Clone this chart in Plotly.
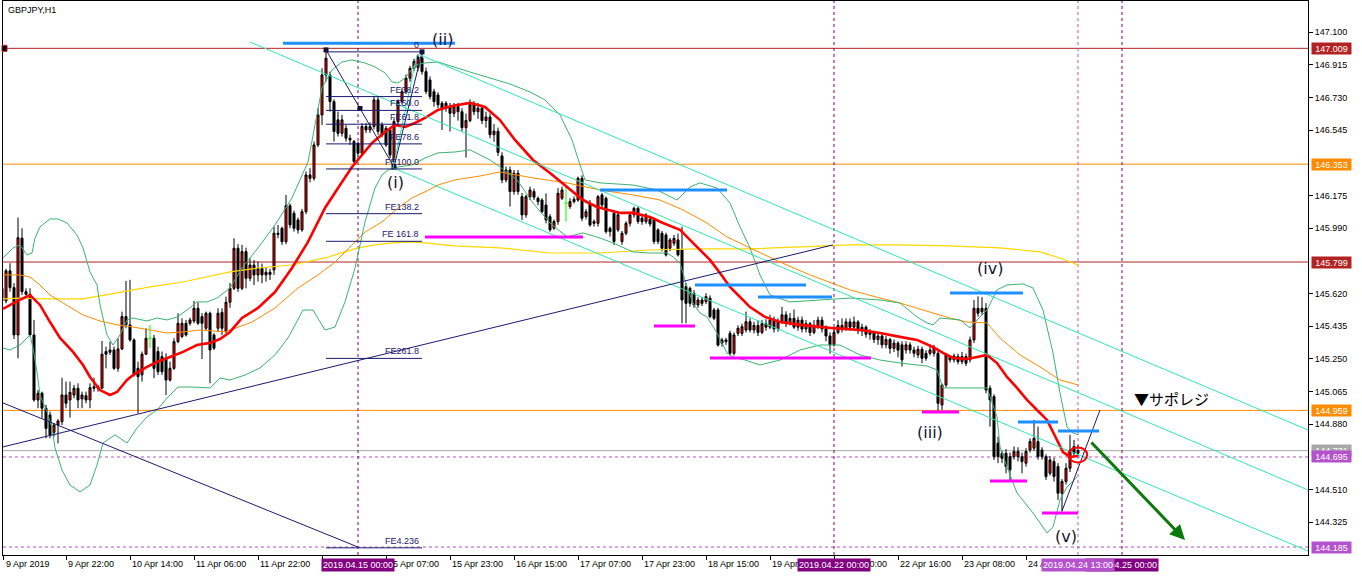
import plotly.graph_objects as go

# ---------------- candles (bar index 0 = 9 Apr 2019 06:00, H1) ----------------
opens = [145.650,145.579,145.749,145.654,145.386,145.934,145.631,145.616,145.386,145.018,
         145.056,144.971,144.933,144.835,144.876,144.895,145.046,145.018,145.046,145.084,
         145.024,145.042,145.018,145.084,145.093,145.084,145.292,145.288,145.301,145.197,
         145.307,145.490,145.443,145.358,145.197,145.160,145.277,145.367,145.367,145.292,
         145.263,145.254,145.131,145.197,145.348,145.377,145.452,145.452,145.465,145.537,
         145.490,145.424,145.509,145.386,145.424,145.514,145.405,145.571,145.650,145.877,
         145.650,145.858,145.707,145.782,145.726,145.763,145.726,145.741,145.754,145.962,
         145.990,145.914,146.118,146.075,146.037,145.981,146.084,146.292,146.273,146.462,
         146.632,146.858,146.858,146.707,146.604,146.528,146.556,146.500,146.481,146.471,
         146.415,146.566,146.547,146.566,146.717,146.575,146.556,146.547,146.368,146.594,
         146.707,146.764,146.840,146.896,146.900,146.955,146.877,146.830,146.764,146.745,
         146.698,146.670,146.679,
         146.641,146.680,146.650,146.560,146.600,146.690,146.650,146.670,146.600,146.620,
         146.520,146.540,146.400,146.264,146.320,146.198,146.302,146.169,146.066,146.169,
         146.198,146.160,146.150,146.122,146.056,145.990,146.028,146.160,146.132,146.113,
         146.141,146.150,146.273,146.056,146.132,146.028,146.018,146.179,146.160,145.990,
         146.075,145.981,145.915,145.962,146.018,146.066,146.103,146.047,146.028,146.041,
         146.037,145.981,145.962,145.952,145.877,145.905,145.924,145.867,145.660,145.650,
         145.622,145.556,145.584,145.575,145.594,145.528,145.528,145.358,145.348,145.395,
         145.282,145.395,145.395,145.414,
         145.461,145.414,145.440,145.400,145.450,145.430,145.470,145.420,145.460,145.500,
         145.450,145.480,145.430,145.470,145.420,145.450,145.400,145.440,145.470,145.420,
         145.380,145.330,145.400,145.440,145.420,145.460,145.430,145.460,145.410,145.430,
         145.390,145.400,145.360,145.380,145.330,145.360,145.310,145.340,
         145.330,145.301,145.330,145.301,145.273,145.305,145.282,145.282,145.282,145.282,
         144.990,145.103,145.264,145.245,145.264,145.235,145.264,145.245,145.358,145.537,
         145.518,145.537,145.084,145.037,144.773,144.716,144.716,144.697,144.697,144.697,
         144.697,144.660,144.735,144.745,144.782,144.735,144.697,144.603,144.669,144.641,
         144.490,144.556,144.631,144.754,144.716]
highs = [145.688,145.760,145.792,145.679,146.051,145.990,145.650,145.650,145.471,145.075,
         145.065,144.990,144.952,144.886,144.910,145.144,145.122,145.122,145.103,145.112,
         145.065,145.065,145.112,145.144,145.103,145.352,145.320,145.348,145.320,145.367,
         145.518,145.692,145.698,145.367,145.235,145.292,145.424,145.443,145.386,145.320,
         145.292,145.282,145.235,145.367,145.509,145.480,145.471,145.484,145.579,145.571,
         145.509,145.518,145.518,145.396,145.537,145.537,145.603,145.680,145.933,145.900,
         145.896,145.880,145.820,145.810,145.801,145.790,145.770,145.760,145.999,146.009,
         145.999,146.179,146.130,146.090,146.050,146.100,146.311,146.330,146.481,146.670,
         146.896,147.000,146.877,146.720,146.651,146.632,146.575,146.520,146.490,146.480,
         146.585,146.585,146.590,146.736,146.736,146.590,146.570,146.560,146.613,146.720,
         146.783,146.860,146.910,146.950,146.975,146.991,146.900,146.850,146.780,146.760,
         146.710,146.710,146.700,
         146.700,146.700,146.670,146.640,146.720,146.710,146.700,146.690,146.650,146.640,
         146.580,146.560,146.420,146.340,146.340,146.320,146.320,146.190,146.180,146.226,
         146.215,146.170,146.160,146.188,146.070,146.040,146.217,146.226,146.235,146.160,
         146.170,146.283,146.290,146.100,146.150,146.040,146.179,146.190,146.170,146.000,
         146.090,146.080,145.975,146.030,146.080,146.113,146.113,146.060,146.075,146.060,
         146.050,145.990,145.975,145.965,145.935,145.952,145.960,145.999,145.680,145.660,
         145.640,145.600,145.600,145.622,145.610,145.540,145.540,145.370,145.370,145.410,
         145.400,145.440,145.450,145.518,
         145.480,145.460,145.470,145.470,145.475,145.500,145.490,145.480,145.545,145.520,
         145.510,145.530,145.490,145.490,145.470,145.460,145.470,145.490,145.490,145.440,
         145.400,145.420,145.470,145.480,145.480,145.480,145.490,145.470,145.450,145.440,
         145.420,145.410,145.400,145.390,145.380,145.370,145.360,145.350,
         145.350,145.350,145.345,145.320,145.325,145.320,145.300,145.330,145.330,145.300,
         145.110,145.282,145.273,145.280,145.280,145.290,145.280,145.377,145.584,145.605,
         145.600,145.566,145.100,145.050,144.811,144.730,144.740,144.720,144.754,144.750,
         144.720,144.745,144.800,144.905,144.867,144.750,144.710,144.700,144.690,144.660,
         144.570,144.660,144.820,144.792,144.764]
lows = [145.556,145.565,145.631,145.363,145.254,145.613,145.609,145.377,145.008,144.971,
        144.914,144.801,144.801,144.810,144.772,144.876,144.971,144.918,145.027,144.971,
        144.971,144.999,144.971,145.065,145.065,145.084,145.197,145.273,145.188,145.178,
        145.301,145.424,145.348,145.150,144.942,145.122,145.273,145.311,145.141,145.160,
        145.160,145.046,145.122,145.188,145.339,145.367,145.377,145.439,145.452,145.443,
        145.250,145.414,145.112,145.301,145.405,145.386,145.396,145.540,145.640,145.630,
        145.640,145.650,145.690,145.669,145.688,145.678,145.688,145.697,145.726,145.933,
        145.896,145.900,145.990,145.971,145.960,145.970,146.070,146.250,146.260,146.450,
        146.575,146.821,146.651,146.481,146.509,146.510,146.481,146.462,146.358,146.396,
        146.405,146.530,146.530,146.550,146.519,146.505,146.450,146.386,146.332,146.580,
        146.690,146.750,146.820,146.880,146.880,146.860,146.750,146.720,146.679,146.670,
        146.547,146.650,146.538,
        146.620,146.600,146.540,146.390,146.590,146.630,146.610,146.580,146.560,146.500,
        146.480,146.400,146.245,146.250,146.113,146.180,146.180,146.037,146.050,146.150,
        146.150,146.120,146.075,146.018,145.971,145.981,146.010,146.150,146.028,146.100,
        146.130,146.140,146.030,146.040,145.999,146.000,146.000,146.110,145.960,145.943,
        145.896,145.970,145.896,145.950,146.000,146.050,146.015,146.010,146.015,146.000,
        145.900,145.900,145.860,145.830,145.860,145.890,145.830,145.452,145.452,145.546,
        145.540,145.540,145.550,145.560,145.480,145.470,145.320,145.320,145.330,145.270,
        145.270,145.380,145.380,145.400,
        145.400,145.395,145.380,145.390,145.410,145.420,145.400,145.405,145.450,145.430,
        145.440,145.420,145.410,145.400,145.400,145.380,145.390,145.420,145.400,145.350,
        145.280,145.320,145.390,145.400,145.410,145.410,145.420,145.390,145.380,145.370,
        145.360,145.340,145.330,145.310,145.310,145.280,145.290,145.260,
        145.207,145.280,145.280,145.260,145.255,145.226,145.240,145.270,145.264,144.952,
        144.962,145.090,145.230,145.230,145.220,145.220,145.210,145.230,145.340,145.490,
        145.500,145.056,144.867,144.678,144.660,144.660,144.603,144.565,144.680,144.670,
        144.603,144.640,144.720,144.730,144.680,144.680,144.565,144.590,144.556,144.452,
        144.386,144.540,144.610,144.700,144.700]
closes = [145.579,145.749,145.654,145.386,145.937,145.631,145.616,145.386,145.018,145.056,
          144.971,144.857,144.820,144.876,144.899,145.046,144.999,145.061,145.084,145.018,
          145.046,145.018,145.088,145.093,145.084,145.277,145.277,145.301,145.197,145.307,
          145.490,145.443,145.358,145.160,145.150,145.277,145.367,145.367,145.197,145.178,
          145.178,145.131,145.197,145.348,145.452,145.452,145.386,145.471,145.537,145.452,
          145.452,145.509,145.301,145.311,145.509,145.424,145.571,145.650,145.877,145.650,
          145.858,145.707,145.782,145.726,145.763,145.726,145.741,145.729,145.962,145.956,
          145.914,146.118,146.009,145.990,145.981,146.084,146.292,146.273,146.462,146.632,
          146.858,146.953,146.707,146.538,146.528,146.604,146.500,146.490,146.368,146.415,
          146.566,146.547,146.566,146.717,146.538,146.519,146.462,146.405,146.594,146.707,
          146.764,146.840,146.896,146.934,146.960,146.877,146.764,146.736,146.707,146.689,
          146.670,146.698,146.641,
          146.680,146.650,146.560,146.600,146.690,146.650,146.670,146.600,146.620,146.520,
          146.540,146.420,146.264,146.320,146.198,146.302,146.198,146.066,146.169,146.207,
          146.166,146.141,146.084,146.037,145.981,146.028,146.188,146.207,146.132,146.141,
          146.154,146.273,146.047,146.084,146.009,146.018,146.169,146.122,145.971,145.971,
          145.915,146.066,145.962,146.018,146.066,146.103,146.028,146.028,146.066,146.015,
          145.915,145.915,145.877,145.839,145.924,145.933,145.839,145.584,145.565,145.565,
          145.556,145.584,145.565,145.603,145.490,145.480,145.329,145.339,145.358,145.282,
          145.386,145.424,145.433,145.461,
          145.414,145.440,145.400,145.450,145.430,145.470,145.420,145.460,145.500,145.450,
          145.480,145.430,145.470,145.420,145.450,145.400,145.440,145.470,145.420,145.380,
          145.330,145.400,145.440,145.420,145.460,145.430,145.460,145.410,145.430,145.390,
          145.400,145.360,145.380,145.330,145.360,145.310,145.340,145.300,
          145.245,145.330,145.301,145.282,145.305,145.254,145.254,145.301,145.316,144.999,
          145.103,145.273,145.245,145.267,145.235,145.264,145.226,145.358,145.537,145.509,
          145.537,145.075,145.018,144.697,144.697,144.688,144.641,144.622,144.726,144.726,
          144.669,144.726,144.782,144.801,144.697,144.697,144.584,144.678,144.584,144.490,
          144.556,144.631,144.735,144.716,144.731]

# ---------------- indicator lines (bar index, price) ----------------
ma_red_x = [0.25,3.75,7,9.5,12,14.5,17.75,20.25,22,24.5,27,28.75,31.25,32.75,36.25,38.75,42,45.25,48.75,52,
            54.5,57,60,64,68.25,72.5,76.5,80.75,85,87.5,90,92.5,95.75,98.25,100.75,103.25,105.75,109,112.5,117,
            120.75,124.5,128.25,132.75,137,141.25,145.25,148.75,152,154.5,157.75,162,165.25,169.5,172,174.5,177,179.5,182,184.5,
            187,190.75,194.5,199.5,207,214.5,219.5,224.5,228.75,232.75,235.25,237.75,241.25,243.75,246.25,248.75,251.25,253.75,256.25,258.75,
            261.25,263.75,265.25,267,269]
ma_red_y = [145.533,145.578,145.612,145.556,145.459,145.369,145.290,145.216,145.148,145.074,145.046,145.063,145.131,145.159,145.205,145.233,145.261,145.290,145.329,145.341,
            145.363,145.403,145.482,145.539,145.629,145.765,145.913,146.105,146.252,146.337,146.405,146.473,146.535,146.575,146.564,146.586,146.615,146.660,146.683,146.700,
            146.677,146.603,146.490,146.377,146.303,146.224,146.150,146.111,146.094,146.077,146.077,146.054,146.020,145.981,145.924,145.867,145.811,145.737,145.658,145.601,
            145.544,145.488,145.459,145.443,145.426,145.414,145.397,145.375,145.358,145.318,145.284,145.256,145.250,145.261,145.273,145.227,145.148,145.086,145.018,144.961,
            144.905,144.791,144.723,144.695,144.701]

bb_up_x = [0.25,2.75,4.5,6.25,7.5,8.25,9.5,12,14,16.25,18.75,20.25,22,23.75,24.5,26.25,27.75,29.5,31.25,32.75,
           36.25,38.75,41.25,43.75,46.25,48.75,51.25,53.75,57,60,64,68.25,72.5,76.5,80,82.5,85,87.5,90.75,93.25,
           95.75,97.5,99,100.75,103.25,105.75,109,113.25,117,122,127,132,135.75,139.5,142.5,144.5,145.75,149.5,157.75,163.75,
           168.75,172,174.5,178.75,182,184.5,187,189.5,192,197,204.5,212,219.5,224.5,228.75,231.25,232.75,234.5,239.5,242,
           243.75,246.25,248.75,251.25,255.25,257.75,260.25,262.75,264.5,266.25,267.75,269]
bb_up_y = [145.822,145.879,145.896,145.839,145.850,145.935,145.998,146.043,146.043,146.020,145.952,145.879,145.743,145.669,145.556,145.386,145.329,145.386,145.471,145.482,
           145.465,145.482,145.471,145.488,145.527,145.573,145.573,145.595,145.652,145.765,145.879,146.009,146.162,146.366,146.785,146.887,146.932,146.943,146.926,146.904,
           146.870,146.819,146.813,146.841,146.915,146.926,146.932,146.904,146.875,146.841,146.807,146.762,146.717,146.632,146.490,146.349,146.264,146.247,146.235,146.207,
           146.150,146.224,146.247,146.218,146.133,145.998,145.879,145.726,145.612,145.573,145.584,145.595,145.584,145.567,145.488,145.454,145.443,145.482,145.471,145.426,
           145.471,145.527,145.641,145.669,145.675,145.652,145.527,145.284,145.057,144.865,144.831,144.820]

bb_dn_x = [0.25,2,4.5,7,7.75,8.75,9.5,11.25,12.5,13.25,15,17,19.5,22,23.75,25.25,28.25,31.25,33.75,36.25,
           38.75,41.25,44,47.75,52,54.5,57,60.75,64.5,68.25,71.5,75.25,77.75,80.75,83.25,85.75,88.25,90.75,93.25,95,
           96.5,99,102.5,105.75,109,113.25,117,122,124.5,128.75,132.75,137,141.25,145.25,149.5,152.75,157.75,162,166.25,167.75,
           169.5,171.25,172.75,174.5,176.25,178.75,181.25,182.75,185.75,189.5,194.5,199.5,204.5,209.5,214.5,219.5,224.5,231.25,233.75,235.25,
           241.25,246.25,248.75,249.5,251.25,253.75,257.75,261.25,262.75,264.5,266.25,268.75]
bb_dn_y = [145.312,145.301,145.329,145.386,145.312,145.176,145.046,144.950,144.859,144.746,144.621,144.536,144.497,144.536,144.650,144.774,144.820,144.774,144.859,144.922,
           144.961,145.029,145.091,145.091,145.086,145.142,145.131,145.159,145.199,145.273,145.369,145.527,145.527,145.414,145.431,145.573,145.765,146.026,146.218,146.292,
           146.320,146.337,146.349,146.388,146.417,146.422,146.434,146.377,146.337,146.264,146.133,146.020,145.941,145.964,145.935,145.907,145.856,145.850,145.850,145.828,
           145.794,145.658,145.567,145.510,145.488,145.397,145.284,145.261,145.244,145.216,145.244,145.301,145.329,145.329,145.273,145.244,145.227,145.210,145.188,145.086,
           145.086,145.086,144.922,144.752,144.638,144.491,144.378,144.265,144.299,144.452,144.525,144.582]

ma_org_x = [0.25,4.5,7,9.5,12,16.25,20.25,24.5,28.75,32.75,37,41.25,45.25,49.5,55.75,62.5,68.25,74,79,83.25,
            87.5,90.75,95,99,102.5,105.75,109,113.25,119.5,124.5,132.75,141.25,149.5,157.75,164.5,170.25,176.25,181.25,187,194.5,
            202,212,219.5,224.5,232.75,237,241.25,246.25,249.5,254.5,259.5,264.5,269]
ma_org_y = [145.726,145.726,145.714,145.669,145.612,145.556,145.499,145.465,145.443,145.431,145.414,145.397,145.403,145.414,145.403,145.459,145.539,145.652,145.726,145.799,
            145.896,145.969,146.026,146.105,146.162,146.196,146.235,146.264,146.286,146.309,146.275,146.247,146.207,146.179,146.150,146.094,146.020,145.941,145.879,145.799,
            145.726,145.641,145.595,145.567,145.510,145.482,145.459,145.454,145.369,145.273,145.205,145.131,145.103]

ma_yel_x = [0.25,4.5,12,20.25,28.75,37,45.25,53.75,57,64,72.5,80.75,85,89,93.25,97.5,101.5,105.75,113.25,124.5,
            137,149.5,162,174.5,187,199.5,212,224.5,237,249.5,259.5,264.5,269]
ma_yel_y = [145.590,145.595,145.590,145.590,145.624,145.658,145.686,145.726,145.743,145.765,145.782,145.822,145.850,145.879,145.896,145.907,145.913,145.907,145.890,145.879,
            145.850,145.850,145.867,145.873,145.873,145.884,145.896,145.896,145.890,145.879,145.856,145.822,145.782]

# ---------------- horizontal levels ----------------
hlines = [(147.009, '#b22222', 'solid'), (146.353, '#ff8c00', 'solid'), (145.799, '#b22222', 'solid'),
          (144.959, '#ff8c00', 'solid'), (144.731, '#a8a8a8', 'solid'), (144.695, '#b452cd', 'dash'),
          (144.185, '#b452cd', 'dash')]
right_labels = [('147.009', 147.009, '#b22222'), ('146.353', 146.353, '#ff8c00'), ('145.799', 145.799, '#b22222'),
                ('144.959', 144.959, '#ff8c00'), ('144.731', 144.731, '#a8a8a8'), ('144.695', 144.695, '#b452cd'),
                ('144.185', 144.185, '#b452cd')]
y_ticks = [147.100, 146.915, 146.730, 146.545, 146.175, 145.990, 145.620, 145.435, 145.250, 145.065,
           144.880, 144.510, 144.325]

# ---------------- time axis ----------------
x_tick_pos = [0.4, 16, 32, 48, 64, 80, 96, 112, 128, 144, 160, 176, 192, 208, 224, 240, 256]
x_tick_txt = ['9 Apr 2019', '9 Apr 22:00', '10 Apr 14:00', '11 Apr 06:00', '11 Apr 22:00', '12 Apr 14:00',
              '15 Apr 07:00', '15 Apr 23:00', '16 Apr 15:00', '17 Apr 07:00', '17 Apr 23:00', '18 Apr 15:00',
              '19 Apr 07:00', '22 Apr 00:00', '22 Apr 16:00', '23 Apr 08:00', '24 Apr 00:00']
vlines = [(89, '2019.04.15 00:00', '#800080'), (208, '2019.04.22 00:00', '#800080'),
          (280, '2019.04.25 00:00', '#800080'), (269, '2019.04.24 13:00', '#b452cd')]

# ---------------- drawn objects ----------------
channels = [((104.5, 146.972), (326.5, 144.848)), ((62, 147.045), (326.5, 144.508)),
            ((97.75, 146.332), (326.5, 144.163)), ((97.75, 146.332), (103.75, 146.972))]
navy_lines = [((0.25, 145.001), (89, 144.185)), ((0.25, 144.752), (207.75, 145.896)),
              ((265, 144.389), (274.5, 144.961))]
wave_x = [81, 98, 105]
wave_y = [147.000, 146.337, 146.989]
fib_ratios = [0, 38.2, 50.0, 61.8, 78.6, 100.0, 138.2, 161.8, 261.8, 423.6]
fib_text = ['0', 'FE38.2', 'FE50.0', 'FE61.8', 'FE78.6', 'FE100.0', 'FE138.2', 'FE 161.8', 'FE261.8', 'FE4.236']
fib_x0, fib_x1 = 81, 105
blue_segs = [(70.25, 113.25, 147.038), (149.5, 181.25, 146.207), (173.25, 201, 145.669), (189, 207.5, 145.601),
             (237, 255.25, 145.624), (254, 264, 144.893), (264, 274.25, 144.842)]
magenta_segs = [(105.75, 145.25, 145.941), (163, 173.25, 145.437), (177, 217.25, 145.256), (230, 239.25, 144.950),
                (247, 256.25, 144.559), (260, 269, 144.378)]
wave_labels = [('(ii)', 110, 147.057), ('(i)', 98.25, 146.252), ('(iii)', 232, 144.831), ('(iv)', 247, 145.765),
               ('(v)', 266, 144.242)]
arrow_from = (272, 144.786)
arrow_to = (295.75, 144.225)
ellipse = (266.6, 271.3, 144.664, 144.749)

AX_FONT = dict(family='Liberation Sans, Arial, sans-serif', size=9, color='black')

fig = go.Figure()

# indicators (behind candles)
fig.add_trace(go.Scatter(x=ma_yel_x, y=ma_yel_y, mode='lines', line=dict(color='#ffd700', width=1.2), showlegend=False))
fig.add_trace(go.Scatter(x=ma_org_x, y=ma_org_y, mode='lines', line=dict(color='#ff8c00', width=1), showlegend=False))
fig.add_trace(go.Scatter(x=bb_up_x, y=bb_up_y, mode='lines', line=dict(color='#3cb371', width=1), showlegend=False))
fig.add_trace(go.Scatter(x=bb_dn_x, y=bb_dn_y, mode='lines', line=dict(color='#3cb371', width=1), showlegend=False))

# candles
n = len(opens)
body = [i for i in range(n) if opens[i] != closes[i]]
doji = [i for i in range(n) if opens[i] == closes[i]]
fig.add_trace(go.Candlestick(
    x=body, open=[opens[i] for i in body], high=[highs[i] for i in body],
    low=[lows[i] for i in body], close=[closes[i] for i in body],
    increasing=dict(line=dict(color='black', width=1), fillcolor='#ff0000'),
    decreasing=dict(line=dict(color='black', width=1), fillcolor='#000000'),
    whiskerwidth=0, showlegend=False, hoverinfo='skip'))
dx, dy = [], []
for i in doji:
    dx += [i, i, None, i - 0.4, i + 0.4, None]
    dy += [highs[i], lows[i], None, opens[i], opens[i], None]
fig.add_trace(go.Scatter(x=dx, y=dy, mode='lines', line=dict(color='#00ff00', width=1),
                         showlegend=False, hoverinfo='skip'))

fig.add_trace(go.Scatter(x=ma_red_x, y=ma_red_y, mode='lines', line=dict(color='#ff0000', width=2.6), showlegend=False))

shapes = []
for val, col, dash in hlines:
    shapes.append(dict(type='line', xref='paper', x0=0, x1=1, yref='y', y0=val, y1=val,
                       line=dict(color=col, width=1, dash='3px,3px' if dash == 'dash' else 'solid'), layer='below'))
for pos, _, col in vlines:
    shapes.append(dict(type='line', xref='x', x0=pos, x1=pos, yref='paper', y0=0, y1=1,
                       line=dict(color=col, width=1, dash='3px,3px'), layer='below'))
for (x0, y0), (x1, y1) in channels:
    shapes.append(dict(type='line', xref='x', yref='y', x0=x0, y0=y0, x1=x1, y1=y1,
                       line=dict(color='#2ee8b0', width=1)))
for (x0, y0), (x1, y1) in navy_lines:
    shapes.append(dict(type='line', xref='x', yref='y', x0=x0, y0=y0, x1=x1, y1=y1,
                       line=dict(color='#1a1a6e', width=1)))
fibA, fibB, fibC = wave_y[0], wave_y[1], wave_y[2]
for r in fib_ratios:
    lv = fibC - r / 100.0 * (fibA - fibB)
    shapes.append(dict(type='line', xref='x', yref='y', x0=fib_x0, x1=fib_x1, y0=lv, y1=lv,
                       line=dict(color='#1a1a6e', width=1)))
for x0, x1, v in blue_segs:
    shapes.append(dict(type='line', xref='x', yref='y', x0=x0, x1=x1, y0=v, y1=v,
                       line=dict(color='#1e8fff', width=3)))
for x0, x1, v in magenta_segs:
    shapes.append(dict(type='line', xref='x', yref='y', x0=x0, x1=x1, y0=v, y1=v,
                       line=dict(color='#ff00ff', width=3)))
shapes.append(dict(type='circle', xref='x', yref='y', x0=ellipse[0], x1=ellipse[1], y0=ellipse[2], y1=ellipse[3],
                   line=dict(color='#ff0000', width=2)))
shapes.append(dict(type='rect', xref='paper', xsizemode='pixel', xanchor=0, x0=-1, x1=4,
                   yref='y', ysizemode='pixel', yanchor=hlines[0][0], y0=-3, y1=3,
                   fillcolor='black', line=dict(color='#b22222', width=1)))

# wave polyline + handles
fig.add_trace(go.Scatter(x=wave_x, y=wave_y, mode='lines', line=dict(color='#1a1a6e', width=1), showlegend=False))
hx = [wave_x[0], (wave_x[0] + wave_x[1]) / 2, wave_x[1], wave_x[2]]
hy = [wave_y[0], (wave_y[0] + wave_y[1]) / 2, wave_y[1], wave_y[2]]
fig.add_trace(go.Scatter(x=hx, y=hy, mode='markers', marker=dict(symbol='square', size=5, color='#111133'),
                         showlegend=False))

ann = []
for r, t in zip(fib_ratios, fib_text):
    lv = fibC - r / 100.0 * (fibA - fibB)
    ann.append(dict(x=fib_x1 - 0.3, y=lv, xref='x', yref='y', text=t, showarrow=False, xanchor='right',
                    yanchor='bottom', font=dict(family='Liberation Sans, Arial', size=9, color='#1a1a6e')))
for t, xv, yv in wave_labels:
    ann.append(dict(x=xv, y=yv, xref='x', yref='y', text=t, showarrow=False,
                    font=dict(family='DejaVu Sans', size=16, color='#141433')))
ann.append(dict(x=292.25, y=145.029, xref='x', yref='y', text='▼サポレジ', showarrow=False,
                font=dict(family='Noto Sans CJK JP', size=15, color='black')))
ann.append(dict(x=arrow_to[0], y=arrow_to[1], ax=arrow_from[0], ay=arrow_from[1], xref='x', yref='y',
                axref='x', ayref='y', text='', showarrow=True, arrowhead=2, arrowsize=1, arrowwidth=3,
                arrowcolor='#0b7a0b'))
ann.append(dict(x=0, y=1, xref='paper', yref='paper', xanchor='left', yanchor='top', xshift=3, yshift=-2,
                text='GBPJPY,H1', showarrow=False, font=AX_FONT))
for p, t in zip(x_tick_pos, x_tick_txt):
    ann.append(dict(x=p, y=0, xref='x', yref='paper', xanchor='left', yanchor='top', xshift=0, yshift=-2,
                    text=t, showarrow=False, font=AX_FONT))
for pos, t, col in vlines:
    ann.append(dict(x=pos, y=0, xref='x', yref='paper', xanchor='center', yanchor='top', yshift=-3,
                    text=t, showarrow=False, bgcolor=col, borderpad=1, font=dict(AX_FONT, color='white')))
for t, v, col in right_labels:
    ann.append(dict(x=1, y=v, xref='paper', yref='y', xanchor='left', xshift=3, text=t, showarrow=False,
                    bgcolor=col, width=39, height=11, borderpad=0, font=dict(AX_FONT, color='white')))

fig.update_layout(
    width=1362, height=576, margin=dict(l=3, r=54, t=1, b=21, autoexpand=False),
    paper_bgcolor='white', plot_bgcolor='white', showlegend=False, boxgap=0.28,
    shapes=shapes, annotations=ann,
    xaxis=dict(range=[0.25, 326.5], showgrid=False, zeroline=False, rangeslider=dict(visible=False),
               tickmode='array', tickvals=x_tick_pos, showticklabels=False, ticks='outside', ticklen=4,
               tickcolor='black', showline=True, linecolor='black', linewidth=1, mirror=True),
    yaxis=dict(range=[144.140, 147.277], side='right', showgrid=False, zeroline=False,
               tickmode='array', tickvals=y_ticks, ticktext=['%.3f' % v for v in y_ticks],
               ticks='outside', ticklen=4, tickcolor='black', tickfont=AX_FONT,
               showline=True, linecolor='black', linewidth=1, mirror=True),
)
fig.write_html('out.html', config={'displayModeBar': False},
               post_script="document.body.style.margin='0px';document.body.style.overflow='hidden';")
